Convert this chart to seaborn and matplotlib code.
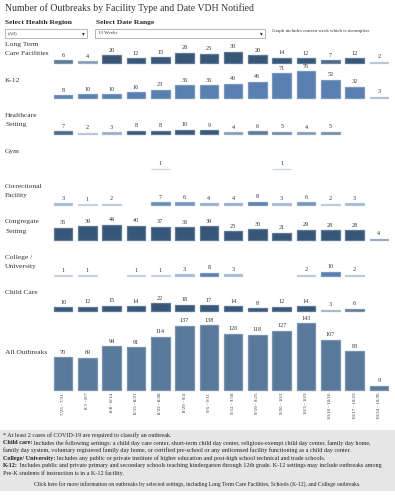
import numpy as np
import pandas as pd
import seaborn as sns
import matplotlib.pyplot as plt
from matplotlib.colors import to_rgb
from matplotlib.patches import Rectangle

weeks = ["7/25 - 7/31", "8/1 - 8/7", "8/8 - 8/14", "8/15 - 8/21", "8/22 - 8/28",
         "8/29 - 9/4", "9/5 - 9/11", "9/12 - 9/18", "9/19 - 9/25", "9/26 - 10/2",
         "10/3 - 10/9", "10/10 - 10/16", "10/17 - 10/23", "10/24 - 10/30"]
nan = np.nan
ltc = [6, 4, 20, 12, 15, 28, 25, 30, 20, 14, 12, 7, 12, 2]
k12 = [8, 10, 10, 16, 23, 36, 36, 40, 46, 71, 76, 52, 32, 3]
healthcare = [7, 2, 3, 8, 8, 10, 9, 4, 6, 5, 4, 5, nan, nan]
gym = [nan, nan, nan, nan, 1, nan, nan, nan, nan, 1, nan, nan, nan, nan]
correctional = [3, 1, 2, nan, 7, 6, 4, 4, 8, 3, 6, 2, 3, nan]
congregate = [35, 39, 44, 40, 37, 36, 39, 25, 30, 21, 29, 28, 28, 4]
college = [1, 1, nan, 1, 1, 3, 8, 3, nan, nan, 2, 10, 2, nan]
child_care = [10, 12, 15, 14, 22, 18, 17, 14, 8, 12, 14, 3, 6, nan]
all_outbreaks = [70, 69, 94, 91, 114, 137, 138, 120, 118, 127, 143, 107, 83, 9]

row_labels = ["Long Term\nCare Facilities", "K-12", "Healthcare\nSetting", "Gym",
              "Correctional\nFacility", "Congregate\nSetting", "College /\nUniversity",
              "Child Care", "All Outbreaks"]
row_values = [ltc, k12, healthcare, gym, correctional, congregate, college, child_care, all_outbreaks]

NAVY = "#2c5684"
BLUE = "#4a7dbd"
STEEL = "#4e79a6"
LIGHT = "#b3c8e4"
row_base = [NAVY, BLUE, NAVY, NAVY, BLUE, NAVY, BLUE, NAVY, STEEL]

sns.set_theme(style="white")
plt.rcParams["font.family"] = ["Liberation Serif", "DejaVu Serif"]
TXT = "#333333"

W, H = 395, 500
fig = plt.figure(figsize=(W / 100, H / 100), dpi=100)


def fx(x):
    return x / W


def fy(y):
    return 1 - y / H


def shade(v, base, full=False):
    if full:
        return base
    t = min(1.0, max(0.0, (v - 1) / 7.0))
    a, b = np.array(to_rgb(LIGHT)), np.array(to_rgb(base))
    return tuple(a + (b - a) * t)


def lighter(c, amt=0.2):
    c = np.array(to_rgb(c))
    return tuple(c + (1 - c) * amt)


# header
fig.text(fx(5), fy(8), "Number of Outbreaks by Facility Type and Date VDH Notified",
         fontsize=7.05, color=TXT, va="center")
fig.text(fx(5), fy(22.5), "Select Health Region", fontsize=5.4, fontweight="bold", va="center")
fig.text(fx(96), fy(22.5), "Select Date Range", fontsize=5.4, fontweight="bold", va="center")
for x0, x1, lab in [(5, 87, "(All)"), (95, 265, "13 Weeks")]:
    fig.patches.append(Rectangle((fx(x0), fy(37.5)), fx(x1 - x0), (37.5 - 29.5) / H,
                                 transform=fig.transFigure, facecolor="white",
                                 edgecolor="#999999", lw=0.5))
    fig.text(fx(x0 + 3), fy(33.5), lab, fontsize=3.6, va="center", color=TXT)
    fig.text(fx(x1 - 4), fy(33.5), "▾", fontsize=4, va="center", ha="center",
             color="#333333", family="DejaVu Sans")
fig.text(fx(272), fy(31), "Graph includes current week which is incomplete",
         fontsize=3.5, va="center", color=TXT)

# panels
left, width = 51, 340
row_h = 35.5
for i, (lab, vals) in enumerate(zip(row_labels, row_values)):
    last = i == len(row_values) - 1
    if last:
        base_y, h, ymax = 390, 79, 169
    else:
        base_y, h, ymax = 62.5 + row_h * i, row_h, 101
    ax = fig.add_axes([fx(left), fy(base_y), fx(width), h / H])
    df = pd.DataFrame({"week": weeks, "count": vals}).dropna()
    pal = {w: shade(v, row_base[i], full=last) for w, v in zip(df["week"], df["count"])}
    sns.barplot(data=df, x="week", y="count", hue="week", order=weeks, hue_order=list(df["week"]),
                palette=pal, legend=False, width=0.76, linewidth=0.9,
                ax=ax, dodge=False)
    for p in ax.patches:
        p.set_edgecolor(lighter(p.get_facecolor()))
        p.set_clip_on(False)
    for c in ax.containers:
        ax.bar_label(c, fmt="%d", fontsize=4.4, padding=1.8, color=TXT)
    ax.set_ylim(0, ymax)
    ax.set_xlim(-0.5, len(weeks) - 0.5)
    ax.axhline(0, color="#e3e3e3", lw=0.6, zorder=0)
    ax.set_ylabel("")
    ax.set_xlabel("")
    ax.set_yticks([])
    ax.patch.set_alpha(0)
    for s in ax.spines.values():
        s.set_visible(False)
    if last:
        ax.set_xticks(range(len(weeks)))
        ax.set_xticklabels(weeks, rotation=90, fontsize=3.5, color=TXT, va="top")
        ax.tick_params(axis="x", length=0, pad=2)
        ty = base_y - 38
    else:
        ax.set_xticks([])
        ty = base_y - 18
    lines = lab.split("\n")
    for j, ln in enumerate(lines):
        fig.text(fx(5), fy(ty + 9 * j), ln, fontsize=5.4, va="center", color=TXT)

# footer
fig.patches.append(Rectangle((0, fy(491)), 1, (491 - 430) / H, transform=fig.transFigure,
                             facecolor="#e6e6e6", edgecolor="none", zorder=-1))
renderer = fig.canvas.get_renderer()
fs = 4.4
footer = [
    ("", "* At least 2 cases of COVID-19 are required to classify an outbreak."),
    ("Child care:", " Includes the following settings: a child day care center, short-term child day center, religious-exempt child day center, family day home,"),
    ("", "family day system, voluntary registered family day home, or certified pre-school or any unlicensed facility functioning as a child day center."),
    ("College/ University:", " Includes any public or private institute of higher education and post-high school technical and trade schools."),
    ("K-12:", " Includes public and private primary and secondary schools teaching kindergarten through 12th grade. K-12 settings may include outbreaks among"),
    ("", "Pre-K students if instruction is in a K-12 facility."),
]
for k, (bold, rest) in enumerate(footer):
    y = fy(435 + 7.7 * k)
    x = fx(3)
    if bold:
        t = fig.text(x, y, bold, fontsize=fs, fontweight="bold", va="center", color="#222222")
        bb = t.get_window_extent(renderer)
        x = bb.x1 / fig.bbox.width
    fig.text(x, y, rest, fontsize=fs, va="center", color="#222222")
fig.text(0.5, fy(484), "Click here for more information on outbreaks by selected settings, including Long Term Care Facilities, Schools (K-12), and College outbreaks.",
         fontsize=4.1, va="center", ha="center", color="#222222")

fig.savefig("out.png", dpi=100)
